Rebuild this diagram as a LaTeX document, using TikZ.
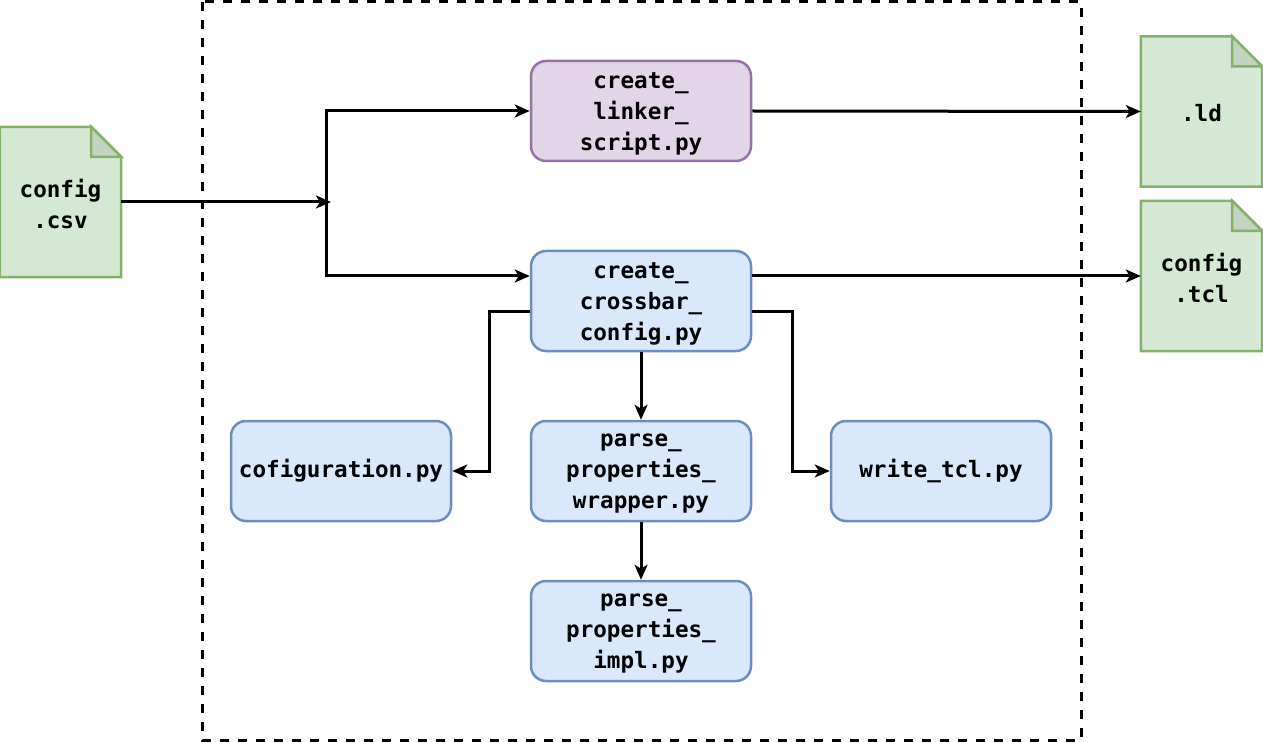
\documentclass[tikz,border=0pt]{standalone}
\usepackage{fontspec}
\setmonofont{DejaVu Sans Mono}
\usetikzlibrary{arrows.meta}
\definecolor{gfill}{HTML}{D5E8D4}
\definecolor{gline}{HTML}{82B366}
\definecolor{gfold}{HTML}{C3D4C2}
\definecolor{bfill}{HTML}{DAE8FC}
\definecolor{bline}{HTML}{6C8EBF}
\definecolor{pfill}{HTML}{E1D5E7}
\definecolor{pline}{HTML}{9673A6}
\newcommand{\boxtext}[1]{\raisebox{-3pt}[\height][\depth]{\parbox{210pt}{\centering #1}}}
\tikzset{
  lbl/.style={font=\ttfamily\bfseries\fontsize{22.6}{31}\selectfont, align=center, text=black},
  procbox/.style={lbl, draw=bline, fill=bfill, line width=2.5pt, rounded corners=15pt,
     minimum width=220pt, minimum height=100pt, inner sep=0pt},
  purplebox/.style={procbox, draw=pline, fill=pfill},
  notebox/.style={lbl, minimum width=121pt, minimum height=150pt, inner sep=0pt},
  noteline/.style={draw=gline, fill=gfill, line width=2.5pt, line join=miter},
  foldline/.style={draw=gline, fill=gfold, line width=2.5pt, line join=miter},
  arr/.style={draw=black, line width=3pt, -{Stealth[length=15pt,width=13pt,inset=4pt]}},
  frame/.style={draw=black, line width=3pt, dash pattern=on 9pt off 9pt}
}
\newcommand{\drawnote}[1]{%
  \path[noteline] (#1.north west) -- ([xshift=-30pt]#1.north east) -- ([yshift=-30pt]#1.north east) -- (#1.south east) -- (#1.south west) -- cycle;
  \path[foldline] ([xshift=-30pt]#1.north east) -- ([xshift=-30pt,yshift=-30pt]#1.north east) -- ([yshift=-30pt]#1.north east) -- cycle;
}
\begin{document}
\begin{tikzpicture}[x=1pt,y=-1pt]
\useasboundingbox (0,0) rectangle (1263,743);
% frame
\draw[frame] (202,2) rectangle (1081,740);
% notes
\node[notebox] (csv) at (60.5,202) {};
\node[notebox] (ld) at (1201.5,111.5) {};
\node[notebox] (tcl) at (1201.5,276) {};
\drawnote{csv}
\drawnote{ld}
\drawnote{tcl}
\node[lbl] (csvtext) at ([yshift=-2pt]csv) {config\\.csv};
\node[lbl] (ldtext) at ([yshift=-2pt]ld) {.ld};
\node[lbl] (tcltext) at ([yshift=-2pt]tcl) {config\\.tcl};
% process boxes
\node[purplebox] (linker) at (641,111) {\boxtext{create\_\\linker\_\\script.py}};
\node[procbox] (cross) at (641,301) {\boxtext{create\_\\crossbar\_\\config.py}};
\node[procbox] (cofig) at (341,471) {cofiguration.py};
\node[procbox] (wrap) at (641,471) {\boxtext{parse\_\\properties\_\\wrapper.py}};
\node[procbox] (write) at (941,471) {write\_tcl.py};
\node[procbox] (impl) at (641,631) {\boxtext{parse\_\\properties\_\\impl.py}};
% connectors
\coordinate (split) at (326,202);
\coordinate (splittip) at (331,202);
\draw[arr] (csv.east) -- (splittip);
\draw[arr] (split) |- (linker.west);
\draw[arr] (split) |- ([yshift=25pt]cross.west);
\draw[arr] (linker.east) -- (ld.west);
\draw[arr] ([yshift=25pt]cross.east) -- (tcl.west);
\draw[arr] ([yshift=-10pt]cross.west) -- ++(-40,0) |- (cofig.east);
\draw[arr] ([yshift=-10pt]cross.east) -- ++(40,0) |- (write.west);
\draw[arr] (cross.south) -- (wrap.north);
\draw[arr] (wrap.south) -- (impl.north);
\end{tikzpicture}
\end{document}
